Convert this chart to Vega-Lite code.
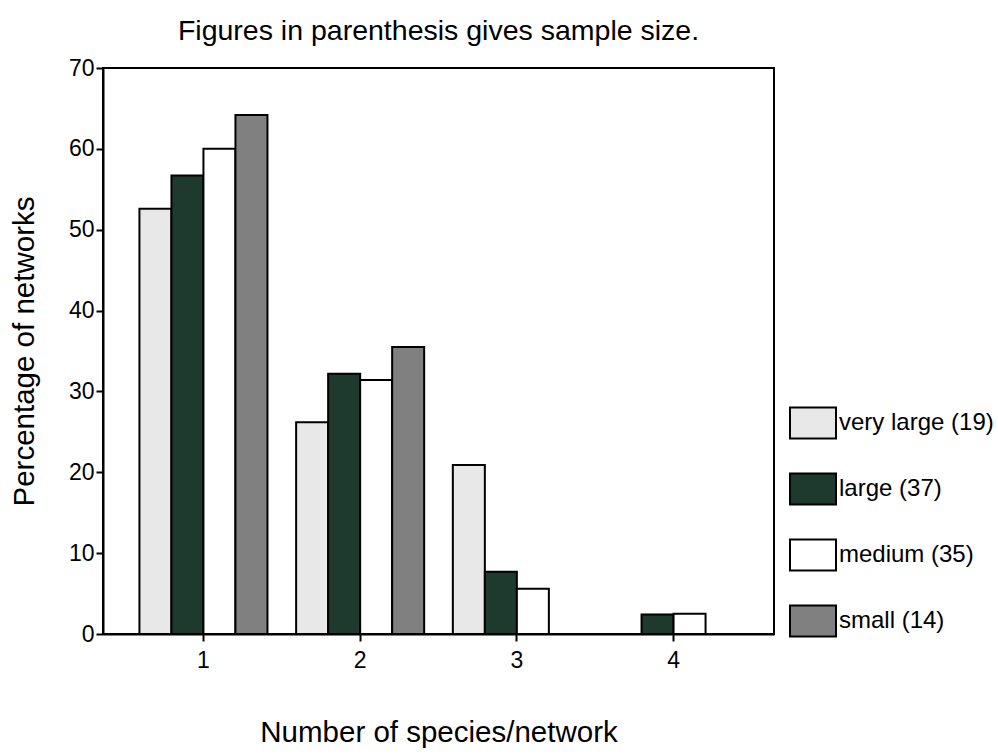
{
  "$schema": "https://vega.github.io/schema/vega-lite/v6.json",
  "autosize": {"type": "none"},
  "padding": {"left": 103, "top": 68, "right": 224, "bottom": 120},
  "width": 671,
  "height": 566,
  "background": "white",
  "title": {
    "text": "Figures in parenthesis gives sample size.",
    "font": "Liberation Sans",
    "fontSize": 28.5,
    "fontWeight": "normal",
    "color": "black",
    "anchor": "middle",
    "offset": 12
  },
  "config": {
    "view": {"stroke": "black", "strokeWidth": 2},
    "font": "Liberation Sans",
    "axis": {
      "domainColor": "black",
      "domainWidth": 2,
      "tickColor": "black",
      "tickWidth": 2,
      "tickSize": 7,
      "labelFont": "Liberation Sans",
      "labelFontSize": 23,
      "labelColor": "black",
      "titleFont": "Liberation Sans",
      "titleFontSize": 29.5,
      "titleFontWeight": "normal",
      "titleColor": "black",
      "grid": false
    }
  },
  "data": {
    "values": [
      {"species": "1", "size": "very large", "pct": 52.6},
      {"species": "1", "size": "large", "pct": 56.7},
      {"species": "1", "size": "medium", "pct": 60.0},
      {"species": "1", "size": "small", "pct": 64.2},
      {"species": "2", "size": "very large", "pct": 26.2},
      {"species": "2", "size": "large", "pct": 32.2},
      {"species": "2", "size": "medium", "pct": 31.4},
      {"species": "2", "size": "small", "pct": 35.5},
      {"species": "3", "size": "very large", "pct": 20.9},
      {"species": "3", "size": "large", "pct": 7.7},
      {"species": "3", "size": "medium", "pct": 5.6},
      {"species": "4", "size": "large", "pct": 2.4},
      {"species": "4", "size": "medium", "pct": 2.5}
    ]
  },
  "mark": {"type": "bar", "stroke": "black", "strokeWidth": 2, "opacity": 1},
  "encoding": {
    "x": {
      "field": "species",
      "type": "nominal",
      "scale": {"domain": ["1", "2", "3", "4"], "paddingInner": 0.183, "paddingOuter": 0.2325},
      "axis": {"title": "Number of species/network", "labelAngle": 0, "titlePadding": 46, "labelPadding": 8}
    },
    "xOffset": {
      "field": "size",
      "type": "nominal",
      "scale": {"domain": ["very large", "large", "medium", "small"], "paddingInner": 0, "paddingOuter": 0}
    },
    "y": {
      "field": "pct",
      "type": "quantitative",
      "scale": {"domain": [0, 70], "nice": false},
      "axis": {"title": "Percentage of networks", "values": [0, 10, 20, 30, 40, 50, 60, 70], "titlePadding": 29, "labelPadding": 2}
    },
    "fill": {
      "field": "size",
      "type": "nominal",
      "scale": {
        "domain": ["very large", "large", "medium", "small"],
        "range": ["#e8e8e8", "#1e392d", "#ffffff", "#808080"]
      },
      "legend": {
        "title": null,
        "orient": "none",
        "legendX": 686,
        "legendY": 331,
        "symbolType": "M-1,-0.674L1,-0.674L1,0.674L-1,0.674Z",
        "symbolSize": 2116,
        "symbolStrokeColor": "black",
        "symbolStrokeWidth": 2,
        "symbolOpacity": 1,
        "labelFont": "Liberation Sans",
        "labelFontSize": 24,
        "labelColor": "black",
        "labelOffset": 2,
        "rowPadding": 22,
        "labelExpr": "datum.label == 'very large' ? 'very large (19)' : datum.label == 'large' ? 'large (37)' : datum.label == 'medium' ? 'medium (35)' : 'small (14)'"
      }
    }
  }
}
